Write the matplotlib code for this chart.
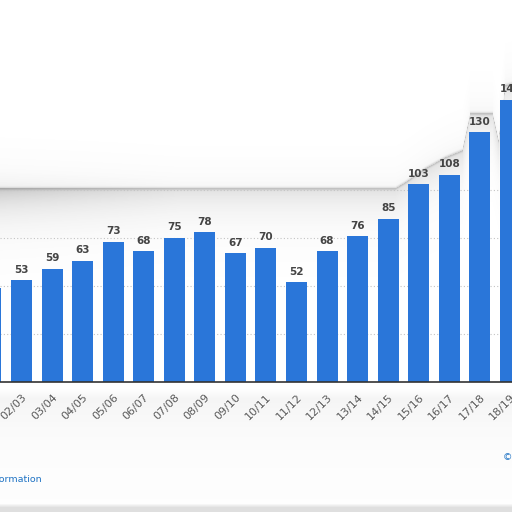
import numpy as np
import matplotlib
matplotlib.use('Agg')
import matplotlib.pyplot as plt

seasons = ['01/02', '02/03', '03/04', '04/05', '05/06', '06/07', '07/08', '08/09', '09/10',
           '10/11', '11/12', '12/13', '13/14', '14/15', '15/16', '16/17', '17/18', '18/19']
values = [49, 53, 59, 63, 73, 68, 75, 78, 67, 70, 52, 68, 76, 85, 103, 108, 130, 147]
grid_values = [25, 50, 75, 100]

W = H = 512
fig = plt.figure(figsize=(5.12, 5.12), dpi=100)

# background blur/shade effect (style only)
bg = fig.add_axes([0, 0, 1, 1])
bg.set_axis_off()
yy, xx = np.mgrid[0:H, 0:W].astype(float)
xb = [0, 395, 405, 425, 445, 462, 470, 492, 498, 505, 512]
yb = [188, 188, 182, 168, 157, 150, 113, 113, 140, 85, 83]
b = np.interp(xx[0], xb, yb)
d = yy - b[None, :]
shade = np.where(d >= 0, np.exp(-d / 22.0), 0.3 * np.exp(d / 15.0))
left = 1 + 0.8 * np.clip((180 - xx) / 180, 0, 1)
a = 0.22 * shade * left
a += 0.22 * np.exp(-(d / 1.6) ** 2)
below = np.clip((yy - 388) / 10, 0, 1) * np.exp(-np.clip(yy - 400, 0, None) / 45.0)
a += 0.07 * below
a += 0.22 * np.clip((yy - 503) / 4, 0, 1)
img = np.zeros((H, W, 4))
img[..., :3] = 0.45
img[..., 3] = np.clip(a, 0, 1)
bg.imshow(img, extent=(0, W, H, 0), interpolation='bilinear')
bg.set_xlim(0, W)
bg.set_ylim(H, 0)

ax = fig.add_axes([0, 130 / 512, 1, 382 / 512])
ax.patch.set_alpha(0)
x = np.arange(len(values))
ax.bar(x, values, width=0.687, color='#2a76d9', zorder=3)
ax.set_xlim(0.2965, 0.2965 + 512 / 30.56)
ax.set_ylim(0, 382 / 1.92)
for v in grid_values:
    ax.axhline(v, color='#c4c4c4', lw=0.8, ls=(0, (1, 2)), zorder=1)
for s in ['top', 'right', 'left']:
    ax.spines[s].set_visible(False)
ax.spines['bottom'].set_color('#333333')
ax.spines['bottom'].set_linewidth(1.2)
ax.spines['bottom'].set_zorder(4)
ax.set_yticks([])
# the first season lies off the visible (cropped) area; its labels are not shown
ax.set_xticks(x[1:])
ax.set_xticklabels(seasons[1:], rotation=45, ha='right', rotation_mode='anchor',
                   color='#5a5a5a', fontsize=8)
ax.tick_params(axis='x', length=0, pad=7)
for i, v in zip(x[1:], values[1:]):
    ax.annotate(str(v), (i, v), xytext=(0, 4), textcoords='offset points',
                ha='center', va='bottom', fontsize=7.5, fontweight='bold',
                color='#444444', zorder=5)

fig.text(42 / 512, 1 - 479 / 512, 'Additional Information', ha='right', va='center',
         color='#1f73c4', fontsize=6.8)
fig.text(503 / 512, 1 - 457 / 512, '© Statista 2021', ha='left', va='center',
         color='#1f73c4', fontsize=6.8)

fig.savefig('out.png', dpi=100)
